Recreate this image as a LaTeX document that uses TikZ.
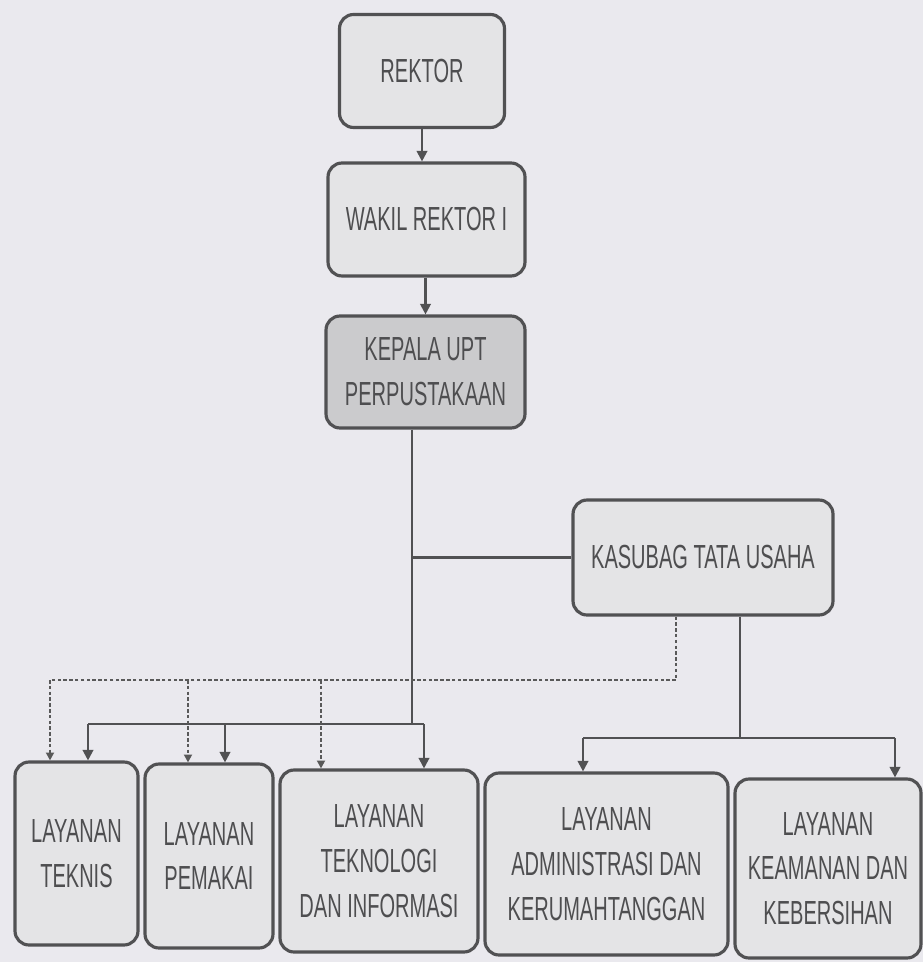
\documentclass[tikz,border=0pt]{standalone}
\usepackage{fontspec}
\setmainfont{Liberation Sans}[FakeStretch=0.6]
\usetikzlibrary{arrows.meta}
\definecolor{bg}{HTML}{EAE9EE}
\definecolor{boxfill}{HTML}{E4E4E6}
\definecolor{darkfill}{HTML}{CBCBCD}
\definecolor{edge}{HTML}{515153}
\definecolor{ink}{HTML}{4E4E50}
\tikzset{
  orgbox/.style={draw=edge, line width=1.8pt, rounded corners=0.28cm, fill=boxfill,
    inner sep=0pt, align=center, text=ink, font=\fontsize{19}{25.5}\selectfont},
  conn/.style={draw=edge, line width=1.2pt},
  arr/.style={conn, -{Triangle[width=6pt,length=6pt]}},
  dotconn/.style={draw=gray!70!black, line width=1.3pt, dash pattern=on 2pt off 1.3pt},
  dotarr/.style={dotconn, -{Triangle[width=4.5pt,length=4.5pt]}}
}
\begin{document}
\begin{tikzpicture}[x=0.02cm,y=-0.02cm]
\fill[bg] (0,0) rectangle (923,962);
\useasboundingbox (0,0) rectangle (923,962);

\node[orgbox, minimum width=3.3cm, minimum height=2.26cm] (rek) at (422,71) {REKTOR};
\node[orgbox, minimum width=3.94cm, minimum height=2.26cm] (wak) at (426.5,219.5) {WAKIL REKTOR I};
\node[orgbox, fill=darkfill, minimum width=3.98cm, minimum height=2.24cm] (kep) at (425.5,372) {KEPALA UPT\\PERPUSTAKAAN};
\node[orgbox, minimum width=5.2cm, minimum height=2.3cm] (kas) at (703,557.5) {KASUBAG TATA USAHA};

\node[orgbox, minimum width=2.46cm, minimum height=3.66cm] (tek) at (76.5,853.5) {LAYANAN\\TEKNIS};
\node[orgbox, minimum width=2.56cm, minimum height=3.68cm] (pem) at (209,856) {LAYANAN\\PEMAKAI};
\node[orgbox, minimum width=3.96cm, minimum height=3.64cm] (ti) at (379,861) {LAYANAN\\TEKNOLOGI\\DAN INFORMASI};
\node[orgbox, minimum width=4.86cm, minimum height=3.64cm] (adm) at (606.5,864) {LAYANAN\\ADMINISTRASI DAN\\KERUMAHTANGGAN};
\node[orgbox, minimum width=3.72cm, minimum height=3.58cm] (kea) at (828,868.5) {LAYANAN\\KEAMANAN DAN\\KEBERSIHAN};

% top chain
\draw[arr] (rek.south) -- (rek.south |- wak.north);
\draw[arr] (wak.south -| kep.north) -- (kep.north);

% trunk from Kepala
\coordinate (t) at (412,724);
\draw[conn] (kep.south -| t) -- (t);
\draw[conn] (t |- kas.west) -- (kas.west);

% left bus
\coordinate (b1) at (88,724);
\coordinate (b2) at (225,724);
\coordinate (b3) at (424,724);
\draw[conn] (b1) -- (b3);
\draw[arr] (b1) -- (b1 |- tek.north);
\draw[arr] (b2) -- (b2 |- pem.north);
\draw[arr] (b3) -- (b3 |- ti.north);

% right bus from Kasubag
\coordinate (k2) at (740,738);
\coordinate (r1) at (583,738);
\coordinate (r2) at (895,738);
\draw[conn] (kas.south -| k2) -- (k2);
\draw[conn] (r1) -- (r2);
\draw[arr] (r1) -- (r1 |- adm.north);
\draw[arr] (r2) -- (r2 |- kea.north);

% dotted coordination lines
\coordinate (d0) at (676,680);
\coordinate (d1) at (50,680);
\coordinate (d2) at (188,680);
\coordinate (d3) at (321,680);
\draw[dotconn] (kas.south -| d0) -- (d0) -- (d1);
\draw[dotarr] (d1) -- (d1 |- tek.north);
\draw[dotarr] (d2) -- (d2 |- pem.north);
\draw[dotarr] (d3) -- (d3 |- ti.north);
\end{tikzpicture}
\end{document}
